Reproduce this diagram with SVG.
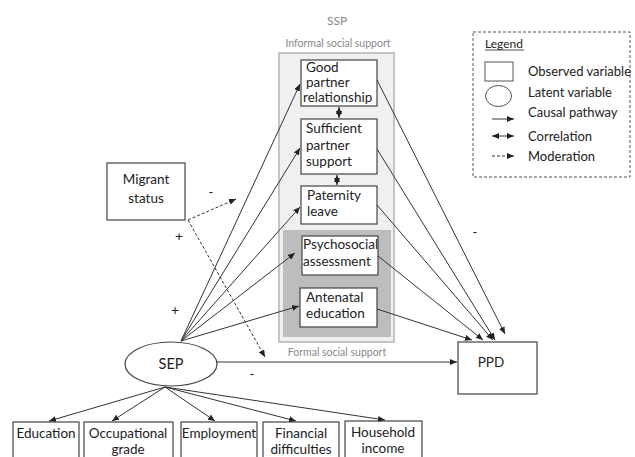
<svg xmlns="http://www.w3.org/2000/svg" width="635" height="457" viewBox="0 0 635 457">
<defs>
<marker id="ah" markerWidth="7" markerHeight="6" refX="7" refY="3" orient="auto-start-reverse" markerUnits="userSpaceOnUse">
<path d="M0,0 L7,3 L0,6 z" fill="#222"/>
</marker>
<style>
text{font-family:Lato,"Open Sans","Liberation Sans",sans-serif;fill:#222}
.t{font-size:13.5px}
.m{text-anchor:middle}
.g{fill:#888}
.box{fill:#fff;stroke:#444;stroke-width:1.2}
.ln{stroke:#333;stroke-width:1;fill:none;marker-end:url(#ah)}
.dl{stroke:#333;stroke-width:1;fill:none;stroke-dasharray:3 2;marker-end:url(#ah)}
.lg{font-size:13px}
</style>
</defs>
<rect width="635" height="457" fill="#fff"/>

<g id="ssp">
<text x="337" y="25" class="m g" font-size="12">SSP</text>
<text x="338" y="47" class="m g" font-size="10.5">Informal social support</text>
<rect x="279" y="53" width="115" height="289" fill="#f0f0f0" stroke="#c4c4c4" stroke-width="2"/>
<rect x="283" y="230" width="108" height="107" fill="#bdbdbd"/>
<text x="337" y="356" class="m g" font-size="10.5">Formal social support</text>
</g>

<g id="good">
<rect class="box" x="301" y="60" width="76" height="46"/>
<text class="t" x="306" y="72">Good</text>
<text class="t" x="306" y="87">partner</text>
<text class="t" x="303" y="102">relationship</text>
</g>
<g id="sufficient">
<rect class="box" x="301" y="119" width="76" height="55"/>
<text class="t" x="306" y="133">Sufficient</text>
<text class="t" x="306" y="150">partner</text>
<text class="t" x="306" y="166">support</text>
</g>
<g id="paternity">
<rect class="box" x="301" y="186" width="76" height="38"/>
<text class="t" x="307" y="200">Paternity</text>
<text class="t" x="307" y="216">leave</text>
</g>
<g id="psychosocial">
<rect class="box" x="302" y="236" width="76" height="39"/>
<text class="t" x="303" y="249">Psychosocial</text>
<text class="t" x="303" y="266">assessment</text>
</g>
<g id="antenatal">
<rect class="box" x="300" y="288" width="77" height="39"/>
<text class="t" x="306" y="302">Antenatal</text>
<text class="t" x="306" y="318">education</text>
</g>

<g id="migrant">
<rect class="box" x="107" y="163" width="78" height="57"/>
<text class="t m" x="146" y="184">Migrant</text>
<text class="t m" x="146" y="203">status</text>
</g>

<g id="sep">
<ellipse cx="171" cy="364" rx="46" ry="22" fill="#fff" stroke="#444" stroke-width="1.2"/>
<text x="171" y="369" class="m" font-size="14.5">SEP</text>
</g>

<g id="ppd">
<rect class="box" x="458" y="342" width="79" height="52"/>
<text class="t m" x="491" y="367">PPD</text>
</g>

<g id="education"><rect class="box" x="13" y="422" width="66" height="40"/><text class="t m" x="46" y="438">Education</text></g>
<g id="occupational"><rect class="box" x="84" y="422" width="89" height="40"/><text class="t m" x="128" y="438">Occupational</text><text class="t m" x="128" y="454">grade</text></g>
<g id="employment"><rect class="box" x="181" y="422" width="76" height="40"/><text class="t m" x="219" y="438">Employment</text></g>
<g id="financial"><rect class="box" x="263" y="422" width="76" height="40"/><text class="t m" x="301" y="438">Financial</text><text class="t m" x="301" y="454">difficulties</text></g>
<g id="household"><rect class="box" x="345" y="421" width="77" height="40"/><text class="t m" x="383" y="437">Household</text><text class="t m" x="383" y="453">income</text></g>

<g id="legend">
<rect x="473" y="32" width="157" height="145" fill="#fff" stroke="#555" stroke-width="1" stroke-dasharray="3 2"/>
<text x="485" y="48" font-size="12">Legend</text>
<line x1="485" y1="50" x2="524" y2="50" stroke="#222" stroke-width="0.8"/>
<rect x="485" y="62" width="28" height="19" fill="#fff" stroke="#555"/>
<text x="528" y="76" class="lg">Observed variable</text>
<ellipse cx="498.5" cy="96" rx="13" ry="10.5" fill="#fff" stroke="#555"/>
<text x="528" y="97" class="lg">Latent variable</text>
<text x="528" y="117" class="lg">Causal pathway</text>
<line x1="492" y1="119" x2="514" y2="119" class="ln"/>
<text x="528" y="141" class="lg">Correlation</text>
<line x1="492" y1="136" x2="514" y2="136" class="ln" marker-start="url(#ah)"/>
<text x="528" y="161" class="lg">Moderation</text>
<line x1="492" y1="156" x2="514" y2="156" class="dl"/>
</g>

<g id="connectors">
<line class="ln" x1="181" y1="341" x2="300" y2="84"/>
<line class="ln" x1="181" y1="341" x2="300" y2="148"/>
<line class="ln" x1="181" y1="341" x2="300" y2="207"/>
<line class="ln" x1="181" y1="341" x2="295" y2="253"/>
<line class="ln" x1="181" y1="341" x2="299" y2="306"/>
<line class="ln" x1="339" y1="107" x2="339" y2="118" marker-start="url(#ah)"/>
<line class="ln" x1="337" y1="175" x2="337" y2="185" marker-start="url(#ah)"/>
<line class="ln" x1="377" y1="80" x2="505" y2="334"/>
<line class="ln" x1="377" y1="149" x2="495" y2="340"/>
<line class="ln" x1="377" y1="205" x2="493" y2="340"/>
<line class="ln" x1="378" y1="256" x2="483" y2="340"/>
<line class="ln" x1="377" y1="309" x2="472" y2="340"/>
<line class="ln" x1="217" y1="362" x2="457" y2="362"/>
<line class="dl" x1="188" y1="220" x2="236" y2="199"/>
<line class="dl" x1="188" y1="220" x2="265" y2="357"/>
<line class="ln" x1="165" y1="387" x2="49" y2="421"/>
<line class="ln" x1="165" y1="387" x2="112" y2="421"/>
<line class="ln" x1="165" y1="387" x2="215" y2="421"/>
<line class="ln" x1="165" y1="387" x2="296" y2="421"/>
<line class="ln" x1="165" y1="387" x2="385" y2="420"/>
<text x="211" y="197" class="m" font-size="13">-</text>
<text x="179" y="241" class="m" font-size="14">+</text>
<text x="175" y="315" class="m" font-size="14">+</text>
<text x="475" y="237" class="m" font-size="13">-</text>
<text x="252" y="379" class="m" font-size="13">-</text>
</g>
</svg>
